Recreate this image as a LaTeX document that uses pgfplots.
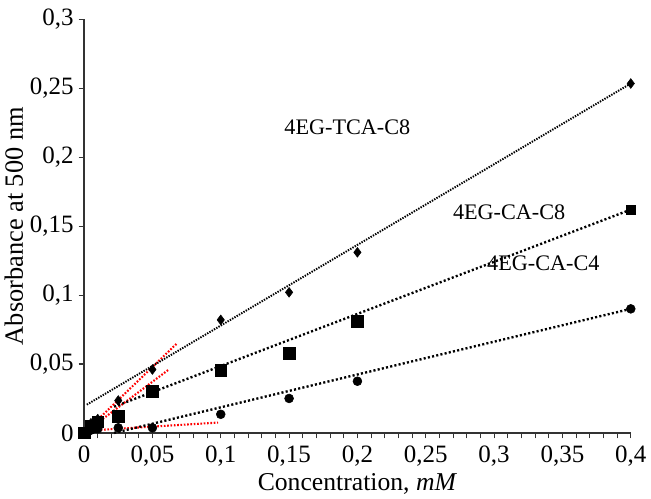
\documentclass[border=0pt]{standalone}
\usepackage{fontspec}
\setmainfont{Liberation Serif}
\usepackage{pgfplots}
\pgfplotsset{compat=1.18}
\begin{document}
\begin{tikzpicture}
\begin{axis}[
  scale only axis,
  width=394pt, height=298pt,
  xmin=0, xmax=0.4, ymin=0, ymax=0.3,
  axis lines*=left,
  axis line style={line width=1pt, black!80},
  xtick={0,0.05,0.1,0.15,0.2,0.25,0.3,0.35,0.4},
  ytick={0,0.05,0.1,0.15,0.2,0.25,0.3},
  minor x tick num=4,
  tick align=outside,
  major tick length=4pt, minor tick length=4pt,
  tick style={black!80, line width=0.8pt},
  /pgf/number format/assume math mode=true,
  /pgf/number format/.cd, use comma, fixed, precision=2,
  /pgfplots/.cd,
  tick label style={font=\fontsize{18}{20}\selectfont},
  xticklabel style={yshift=-2pt},
  xlabel={Concentration, \textit{mM}},
  ylabel={Absorbance at 500 nm},
  xlabel style={font=\fontsize{18.5}{20}\selectfont, yshift=2pt},
  ylabel style={font=\fontsize{19}{21}\selectfont, yshift=-2pt},
  clip=false,
]
% red initial-slope lines
\addplot[red, line width=1.5pt, dash pattern=on 1.2pt off 1.2pt] coordinates {(0,0) (0.068,0.065)};
\addplot[red, line width=1.5pt, dash pattern=on 1.2pt off 1.2pt] coordinates {(0,0) (0.062,0.046)};
\addplot[red, line width=1.5pt, dash pattern=on 1.2pt off 1.2pt] coordinates {(0,0.0015) (0.098,0.0075)};
% black trendlines
\addplot[black, line width=1.4pt, dash pattern=on 1pt off 0.9pt] coordinates {(0.002,0.0205) (0.4,0.2535)};
\addplot[black, line width=1.7pt, dash pattern=on 1.5pt off 1.6pt] coordinates {(0.022,0.019) (0.4,0.162)};
\addplot[black, line width=1.7pt, dash pattern=on 1.5pt off 1.6pt] coordinates {(0.022,0.0) (0.4,0.090)};
% data
\addplot[only marks, mark=diamond*, mark size=3.5pt, black] coordinates {
 (0,0) (0.005,0.007) (0.01,0.01) (0.025,0.0235) (0.05,0.046) (0.1,0.082) (0.15,0.102) (0.2,0.131) (0.4,0.2535)};
\addplot[only marks, mark=square*, mark size=4.2pt, black] coordinates {
 (0,0) (0.005,0.005) (0.01,0.008) (0.025,0.012) (0.05,0.030) (0.1,0.0455) (0.15,0.058) (0.2,0.081)};
\addplot[only marks, mark=square*, mark size=3.2pt, black] coordinates {(0.4,0.162)};
\addplot[only marks, mark=*, mark size=3.2pt, black] coordinates {
 (0,0) (0.005,0.002) (0.01,0.003) (0.025,0.0037) (0.05,0.0037) (0.1,0.0135) (0.15,0.025) (0.2,0.0375) (0.4,0.090)};
% labels
\node[font=\fontsize{16}{18}\selectfont] at (axis cs:0.1926,0.222) {4EG-TCA-C8};
\node[font=\fontsize{16}{18}\selectfont] at (axis cs:0.311,0.160) {4EG-CA-C8};
\node[font=\fontsize{16}{18}\selectfont] at (axis cs:0.336,0.123) {4EG-CA-C4};
\end{axis}
\path ([yshift=14pt]current axis.north west) -- ([yshift=14pt]current axis.north east);
\end{tikzpicture}
\end{document}
